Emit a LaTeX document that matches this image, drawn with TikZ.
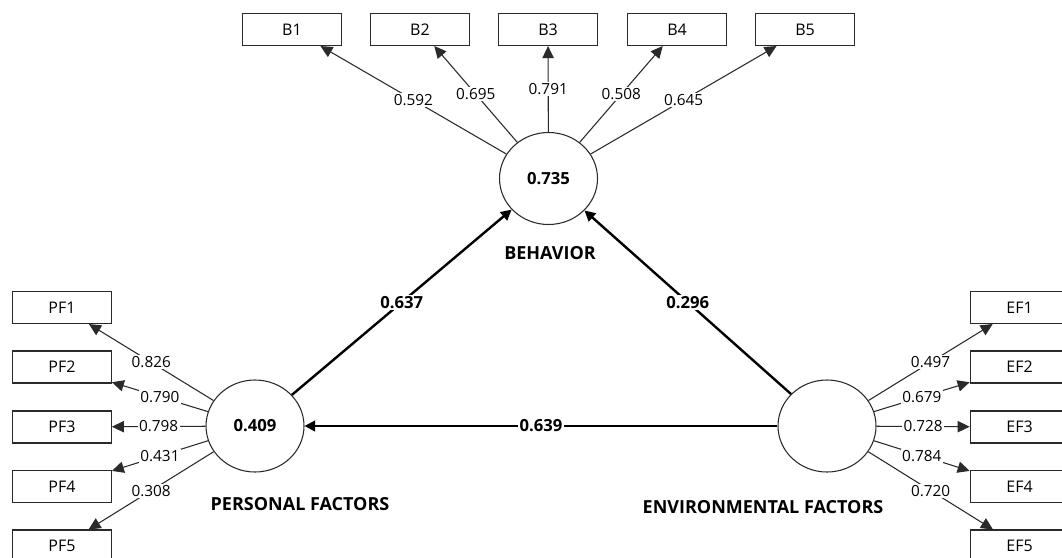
\documentclass[tikz,border=0pt]{standalone}
\usepackage{fontspec}
\setmainfont{Open Sans}
\usetikzlibrary{arrows.meta,shapes.geometric}
\definecolor{edge}{HTML}{2A2A2A}
\tikzset{
  ind/.style={draw=edge,line width=0.8pt,rectangle,minimum width=74pt,minimum height=24pt,inner sep=0pt,font=\fontsize{12pt}{14pt}\selectfont},
  lat/.style={draw=edge,line width=0.8pt,ellipse,minimum width=73.5pt,minimum height=69pt,inner sep=0pt,font=\fontsize{12.5pt}{14pt}\selectfont\bfseries},
  load/.style={draw=edge,line width=0.8pt,-{Triangle[length=9pt,width=8.5pt]}},
  struct/.style={draw=black,line width=1.8pt,-{Triangle[length=8pt,width=8pt]}},
  lbl/.style={fill=white,inner sep=1pt,font=\fontsize{11.5pt}{13pt}\selectfont},
  blbl/.style={fill=white,inner sep=1pt,font=\fontsize{12.5pt}{14pt}\selectfont\bfseries},
  title/.style={font=\fontsize{13.5pt}{15pt}\selectfont\bfseries}
}
\begin{document}
\begin{tikzpicture}[x=0.75pt,y=-0.75pt]
\useasboundingbox (0,0) rectangle (1062,557);
\clip (0,0) rectangle (1062,557);
% latent variables
\node[lat] (beh) at (548.5,178.5) {0.735};
\node[lat] (pf) at (255,426) {0.409};
\node[lat] (ef) at (827,426) {};
\node[title] (behT) at (550,253) {BEHAVIOR};
\node[title] (pfT) at (300,504) {PERSONAL FACTORS};
\node[title] (efT) at (763,507) {ENVIRONMENTAL FACTORS};
% indicators
\node[ind] (b1) at (292,29.5) {B1};
\node[ind] (b2) at (420,29.5) {B2};
\node[ind] (b3) at (548,29.5) {B3};
\node[ind] (b4) at (677,29.5) {B4};
\node[ind] (b5) at (805,29.5) {B5};
\node[ind] (pf1) at (62,307.5) {PF1};
\node[ind] (pf2) at (62,367) {PF2};
\node[ind] (pf3) at (62,427) {PF3};
\node[ind] (pf4) at (62,486.5) {PF4};
\node[ind] (pf5) at (62,546) {PF5};
\node[ind] (ef1) at (1019.5,307.5) {EF1};
\node[ind] (ef2) at (1019.5,367) {EF2};
\node[ind] (ef3) at (1019.5,427) {EF3};
\node[ind] (ef4) at (1019.5,486.5) {EF4};
\node[ind] (ef5) at (1019.5,546) {EF5};
% loadings
\draw[load] (beh) -- node[lbl]{0.592} (b1);
\draw[load] (beh) -- node[lbl]{0.695} (b2);
\draw[load] (beh) -- node[lbl]{0.791} (b3);
\draw[load] (beh) -- node[lbl]{0.508} (b4);
\draw[load] (beh) -- node[lbl]{0.645} (b5);
\draw[load] (pf) -- node[lbl]{0.826} (pf1);
\draw[load] (pf) -- node[lbl]{0.790} (pf2);
\draw[load] (pf) -- node[lbl]{0.798} (pf3);
\draw[load] (pf) -- node[lbl]{0.431} (pf4);
\draw[load] (pf) -- node[lbl]{0.308} (pf5);
\draw[load] (ef) -- node[lbl]{0.497} (ef1);
\draw[load] (ef) -- node[lbl]{0.679} (ef2);
\draw[load] (ef) -- node[lbl]{0.728} (ef3);
\draw[load] (ef) -- node[lbl]{0.784} (ef4);
\draw[load] (ef) -- node[lbl]{0.720} (ef5);
% structural paths
\draw[struct] (pf) -- node[blbl]{0.637} (beh);
\draw[struct] (ef) -- node[blbl]{0.296} (beh);
\draw[struct] (ef) -- node[blbl]{0.639} (pf);
\end{tikzpicture}
\end{document}
